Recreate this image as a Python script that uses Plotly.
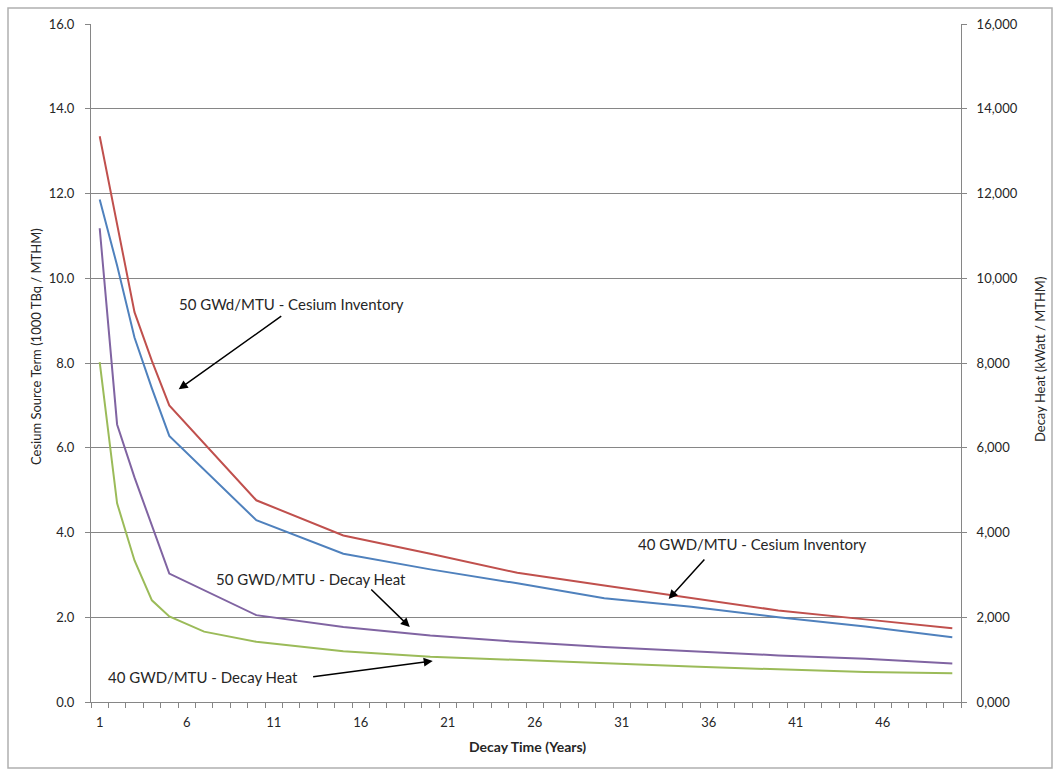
import plotly.graph_objects as go

# ---- data ----
years_cs = [1, 2, 3, 4, 5, 10, 15, 20, 25, 30, 35, 40, 45, 50]
cs_50gwd = [13.35, 11.3, 9.2, 8.05, 7.0, 4.76, 3.93, 3.5, 3.05, 2.75, 2.45, 2.16, 1.95, 1.74]
cs_40gwd = [11.86, 10.3, 8.6, 7.4, 6.28, 4.29, 3.5, 3.13, 2.8, 2.45, 2.25, 2.0, 1.78, 1.53]

years_dh50 = [1, 2, 3, 4, 5, 10, 15, 20, 25, 30, 35, 40, 45, 50]
dh_50gwd = [11180, 6550, 5300, 4150, 3030, 2050, 1770, 1570, 1420, 1300, 1200, 1100, 1020, 910]

years_dh40 = [1, 2, 3, 4, 5, 7, 10, 15, 20, 25, 30, 35, 40, 45, 50]
dh_40gwd = [8020, 4690, 3340, 2400, 2020, 1660, 1420, 1200, 1070, 990, 920, 840, 770, 710, 680]

x_tick_vals = [1, 6, 11, 16, 21, 26, 31, 36, 41, 46]
y_left_ticks = [0, 2, 4, 6, 8, 10, 12, 14, 16]
y_left_text = ["0.0", "2.0", "4.0", "6.0", "8.0", "10.0", "12.0", "14.0", "16.0"]
y_right_ticks = [0, 2000, 4000, 6000, 8000, 10000, 12000, 14000, 16000]
y_right_text = ["0,000", "2,000", "4,000", "6,000", "8,000", "10,000", "12,000", "14,000", "16,000"]

RED = "#C0504D"
BLUE = "#4F81BD"
PURPLE = "#8064A2"
GREEN = "#9BBB59"
GRID = "#868686"
FONT = "Lato"
TXT = "#262626"

fig = go.Figure()
fig.add_trace(go.Scatter(x=years_cs, y=cs_50gwd, mode="lines", line=dict(color=RED, width=2),
                         name="50 GWd/MTU - Cesium Inventory"))
fig.add_trace(go.Scatter(x=years_cs, y=cs_40gwd, mode="lines", line=dict(color=BLUE, width=2),
                         name="40 GWD/MTU - Cesium Inventory"))
fig.add_trace(go.Scatter(x=years_dh50, y=dh_50gwd, mode="lines", line=dict(color=PURPLE, width=2),
                         name="50 GWD/MTU - Decay Heat", yaxis="y2"))
fig.add_trace(go.Scatter(x=years_dh40, y=dh_40gwd, mode="lines", line=dict(color=GREEN, width=2),
                         name="40 GWD/MTU - Decay Heat", yaxis="y2"))

W, H = 1054, 773
L, R, T, B = 91, 93, 24, 71
pw, ph = W - L - R, H - T - B


def px_to_paper(x, y):
    return (x - L) / pw, (H - B - y) / ph


tick_font = dict(family=FONT, size=13, color=TXT)

fig.update_layout(
    width=W, height=H,
    margin=dict(l=L, r=R, t=T, b=B),
    paper_bgcolor="white", plot_bgcolor="white",
    showlegend=False,
    font=dict(family=FONT, size=12, color=TXT),
    xaxis=dict(
        range=[0.5, 50.5], tickmode="array", tickvals=x_tick_vals,
        ticktext=[str(v) for v in x_tick_vals],
        ticks="outside", ticklen=8, tickcolor="rgba(0,0,0,0)",
        showgrid=False, zeroline=False,
        showline=True, linecolor=GRID, linewidth=1,
        tickfont=tick_font,
        minor=dict(ticks="outside", tick0=0.5, dtick=1, ticklen=5, tickcolor=GRID, showgrid=False),
    ),
    yaxis=dict(
        range=[0, 16], tickmode="array", tickvals=y_left_ticks, ticktext=y_left_text,
        ticks="outside", ticklen=5, tickcolor=GRID, ticklabelstandoff=8,
        showgrid=True, gridcolor=GRID, gridwidth=1, zeroline=False,
        showline=True, linecolor=GRID, linewidth=1,
        tickfont=tick_font,
    ),
    yaxis2=dict(
        range=[0, 16000], tickmode="array", tickvals=y_right_ticks, ticktext=y_right_text,
        overlaying="y", side="right",
        ticks="outside", ticklen=5, tickcolor=GRID, ticklabelstandoff=7,
        showgrid=False, zeroline=False,
        showline=True, linecolor=GRID, linewidth=1,
        tickfont=tick_font,
    ),
)

# outer frame
fx0, fy0 = px_to_paper(8, 768)
fx1, fy1 = px_to_paper(1052, 8)
fig.add_shape(type="rect", xref="paper", yref="paper", x0=fx0, y0=fy0, x1=fx1, y1=fy1,
              line=dict(color="#B0B0B0", width=1.5), layer="below")

# axis titles
ax_, ay_ = px_to_paper(36, 347)
fig.add_annotation(xref="paper", yref="paper", x=ax_, y=ay_, xanchor="center", yanchor="middle",
                   text="Cesium Source Term (1000 TBq / MTHM)",
                   textangle=-90, showarrow=False, font=dict(family=FONT, size=13, color=TXT))
ax_, ay_ = px_to_paper(1040, 360)
fig.add_annotation(xref="paper", yref="paper", x=ax_, y=ay_, xanchor="center", yanchor="middle",
                   text="Decay Heat (kWatt / MTHM)",
                   textangle=-90, showarrow=False, font=dict(family=FONT, size=13, color=TXT))
ax_, ay_ = px_to_paper(527, 746)
fig.add_annotation(xref="paper", yref="paper", x=ax_, y=ay_, xanchor="center", yanchor="middle",
                   text="<b>Decay Time (Years)</b>",
                   showarrow=False, font=dict(family=FONT, size=14, color=TXT))

# callout labels: (text, text position (year, value), arrow tail, arrow head)
callouts = [
    ("50 GWd/MTU - Cesium Inventory", (12.03, 9.39), (11.52, 9.13), (5.54, 7.38)),
    ("50 GWD/MTU - Decay Heat", (13.13, 2.90), (16.52, 2.69), (18.82, 1.77)),
    ("40 GWD/MTU - Decay Heat", (6.92, 0.59), (13.18, 0.59), (20.14, 0.97)),
    ("40 GWD/MTU - Cesium Inventory", (38.47, 3.73), (35.83, 3.40), (33.7, 2.43)),
]
for text, (tx, ty), (sx, sy), (hx, hy) in callouts:
    fig.add_annotation(x=tx, y=ty, xref="x", yref="y", text=text, showarrow=False,
                       font=dict(family=FONT, size=15, color=TXT))
    fig.add_annotation(x=hx, y=hy, xref="x", yref="y", ax=sx, ay=sy, axref="x", ayref="y",
                       text="", showarrow=True, arrowhead=2, arrowsize=1.2, arrowwidth=1.5,
                       arrowcolor="#000000")

fig.write_html("out.html", config={"displayModeBar": False},
               post_script="document.body.style.margin='0px';")
